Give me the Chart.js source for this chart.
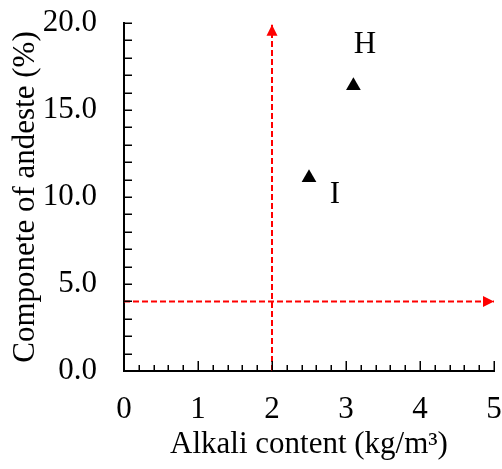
<!DOCTYPE html>
<html>
<head>
<meta charset="utf-8">
<script src="https://cdn.jsdelivr.net/npm/chart.js@4"></script>
<style>
html,body{margin:0;padding:0;background:#fff;}
#wrap{width:502px;height:469px;}
</style>
</head>
<body>
<div id="wrap"><canvas id="c" width="502" height="469"></canvas></div>
<script>
// ---- data ----
const alkaliContent = [3.1, 2.5];        // kg/m3
const andesiteShare = [16.4, 11.1];      // %
const pointLabels = ['H', 'I'];
const alkaliLimit = 2;                   // vertical reference line
const andesiteLimit = 4;                 // horizontal reference line
const verticalLineY = [0, 19.9];
const horizontalLineX = [0, 5];
const xTicks = [0, 1, 2, 3, 4, 5];
const yTicks = [0, 5, 10, 15, 20];

const FONT = "'Liberation Serif','Times New Roman',serif";

const pts = alkaliContent.map((x, i) => ({x: x, y: andesiteShare[i]}));

const arrowPlugin = {
  id: 'arrows',
  afterDatasetsDraw(chart) {
    const ctx = chart.ctx;
    chart.data.datasets.forEach((ds, di) => {
      if (!ds.arrow) return;
      const els = chart.getDatasetMeta(di).data;
      const a = els[els.length - 2], b = els[els.length - 1];
      const ang = Math.atan2(b.y - a.y, b.x - a.x);
      const L = 11, W = 5.5;
      ctx.save();
      ctx.fillStyle = ds.borderColor;
      ctx.translate(b.x, b.y);
      ctx.rotate(ang);
      ctx.beginPath();
      ctx.moveTo(0, 0);
      ctx.lineTo(-L, -W);
      ctx.lineTo(-L, W);
      ctx.closePath();
      ctx.fill();
      ctx.restore();
    });
  }
};

const inwardTicks = {
  id: 'inwardTicks',
  afterDraw(chart) {
    const ctx = chart.ctx;
    const xs = chart.scales.x, ys = chart.scales.y;
    ctx.save();
    ctx.strokeStyle = '#000';
    ctx.lineWidth = 1.5;
    const bottom = ys.getPixelForValue(ys.min);
    for (let k = 0; k <= 25; k++) {
      const v = k * 0.2;
      const px = Math.round(xs.getPixelForValue(v)) + 0.25;
      const len = (k % 5 === 0) ? 10 : 6;
      ctx.beginPath();
      ctx.moveTo(px, bottom);
      ctx.lineTo(px, bottom - len);
      ctx.stroke();
    }
    const left = xs.getPixelForValue(xs.min);
    for (let v = 0; v <= 20; v++) {
      const py = Math.round(ys.getPixelForValue(v)) + 0.25;
      ctx.beginPath();
      ctx.moveTo(left, py);
      ctx.lineTo(left + 8, py);
      ctx.stroke();
    }
    ctx.restore();
  }
};

const labelPlugin = {
  id: 'pointLabels',
  afterDatasetsDraw(chart) {
    const ctx = chart.ctx;
    const meta = chart.getDatasetMeta(2);
    const offsets = [[11.5, -41], [26, 17]];
    ctx.save();
    ctx.fillStyle = '#000';
    ctx.font = "31px " + FONT;
    ctx.textAlign = 'center';
    ctx.textBaseline = 'middle';
    meta.data.forEach((el, i) => {
      ctx.fillText(pointLabels[i], el.x + offsets[i][0], el.y + offsets[i][1]);
    });
    ctx.restore();
  }
};

new Chart(document.getElementById('c'), {
  type: 'scatter',
  data: {
    datasets: [
      {
        data: verticalLineY.map(y => ({x: alkaliLimit, y: y})),
        showLine: true, borderColor: '#ff0000', borderWidth: 2,
        borderDash: [6, 3], pointRadius: 0, arrow: true
      },
      {
        data: horizontalLineX.map(x => ({x: x, y: andesiteLimit})),
        showLine: true, borderColor: '#ff0000', borderWidth: 2,
        borderDash: [6, 3], pointRadius: 0, arrow: true
      },
      {
        data: pts,
        pointStyle: 'triangle', pointRadius: 8.5,
        backgroundColor: '#000', borderColor: '#000', borderWidth: 0
      }
    ]
  },
  options: {
    responsive: false,
    animation: false,
    devicePixelRatio: 1,
    layout: {autoPadding: false, padding: {top: 23, right: 8, left: 0, bottom: 0}},
    plugins: {legend: {display: false}, tooltip: {enabled: false}},
    scales: {
      x: {
        type: 'linear', min: 0, max: 5,
        afterBuildTicks(s) { s.ticks = xTicks.map(v => ({value: v})); },
        afterFit(s) { s.height = 98; },
        grid: {drawOnChartArea: false, drawTicks: true, tickLength: 20, tickColor: 'rgba(0,0,0,0)'},
        border: {display: true, color: '#000', width: 2},
        ticks: {color: '#000', padding: 0, font: {family: FONT, size: 31},
                maxRotation: 0, callback: v => String(v)},
        title: {display: true, text: 'Alkali content (kg/m³)', color: '#000',
                font: {family: FONT, size: 31}, padding: {top: 0, bottom: 6}}
      },
      y: {
        type: 'linear', min: 0, max: 20,
        afterBuildTicks(s) { s.ticks = yTicks.map(v => ({value: v})); },
        afterFit(s) { s.width = 124; },
        grid: {drawOnChartArea: false, drawTicks: true, tickLength: 27, tickColor: 'rgba(0,0,0,0)'},
        border: {display: true, color: '#000', width: 2},
        ticks: {color: '#000', padding: 0, font: {family: FONT, size: 31},
                callback: v => Number(v).toFixed(1)},
        title: {display: true, text: 'Componete of andeste (%)', color: '#000',
                font: {family: FONT, size: 31}, padding: {top: 7, bottom: 0}}
      }
    }
  },
  plugins: [arrowPlugin, inwardTicks, labelPlugin]
});
</script>
</body>
</html>
